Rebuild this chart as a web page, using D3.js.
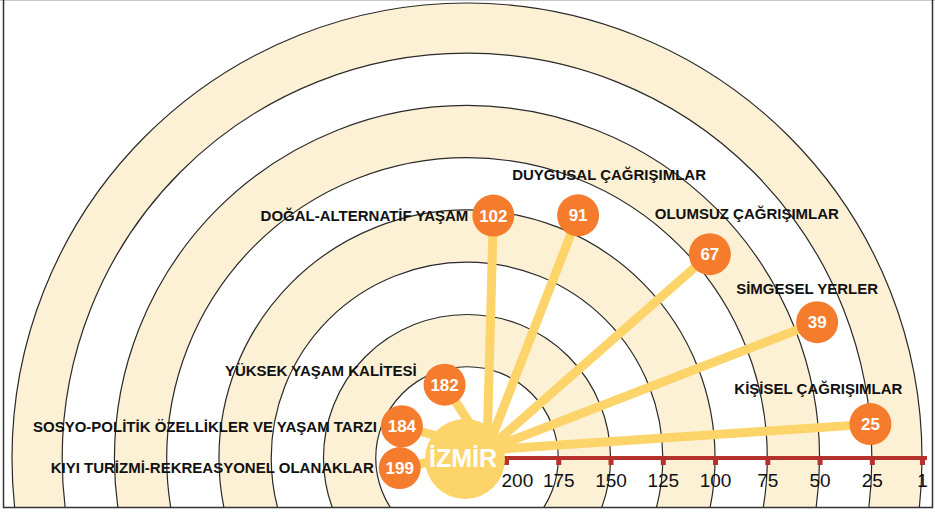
<!DOCTYPE html>
<html>
<head>
<meta charset="utf-8">
<script src="https://cdn.jsdelivr.net/npm/d3@7"></script>
<style>
  body { margin: 0; background: #fff; }
  svg { display: block; font-family: "Liberation Sans", Arial, sans-serif; }
</style>
</head>
<body>
<div id="chart"></div>
<script>
// rank of each association (1 = closest to the edge, 200 = closest to İzmir)
const categories = [
  "KİŞİSEL ÇAĞRIŞIMLAR",
  "SİMGESEL YERLER",
  "OLUMSUZ ÇAĞRIŞIMLAR",
  "DUYGUSAL ÇAĞRIŞIMLAR",
  "DOĞAL-ALTERNATİF YAŞAM",
  "YÜKSEK YAŞAM KALİTESİ",
  "SOSYO-POLİTİK ÖZELLİKLER VE YAŞAM TARZI",
  "KIYI TURİZMİ-REKREASYONEL OLANAKLAR",
];
const ranks = [25, 39, 67, 91, 102, 182, 184, 199];
// direction of each category around the centre, in degrees
const directions = [4.8, 21.2, 40, 65.4, 83.8, 107, 154, 188.5];
const tickValues = [200, 175, 150, 125, 100, 75, 50, 25, 1];
const centerLabel = "İZMİR";

// label placement relative to its bubble (layout only)
const labelLayout = [
  { dx: -52, dy: -30, anchor: "middle" },
  { dx: -10, dy: -28, anchor: "middle" },
  { dx: 37, dy: -35, anchor: "middle" },
  { dx: 31, dy: -35, anchor: "middle" },
  { dx: -25, dy: 5, anchor: "end" },
  { dx: -28, dy: -9, anchor: "end" },
  { dx: -25, dy: 6, anchor: "end" },
  { dx: -26, dy: 5, anchor: "end" },
];

const width = 935,
  height = 512;
const cx = 467,
  cy = 458;
const frame = { left: 3, top: 1, right: 932, bottom: 507 };

const beige = "#fcf0d5",
  yellow = "#fdd469",
  orange = "#f47c2c",
  axisRed = "#b5322c";

const svg = d3
  .select("#chart")
  .append("svg")
  .attr("width", width)
  .attr("height", height);

svg
  .append("clipPath")
  .attr("id", "frameClip")
  .append("rect")
  .attr("x", frame.left)
  .attr("y", frame.top)
  .attr("width", frame.right - frame.left)
  .attr("height", frame.bottom - frame.top);

// rank -> distance from centre
const rScale = d3.scaleLinear().domain([200, 1]).range([39, 455]);
const xScale = d3
  .scaleLinear()
  .domain([200, 1])
  .range([cx + rScale(200), cx + rScale(1)]);

const g = svg.append("g").attr("clip-path", "url(#frameClip)");

// rings, outer first, alternating colours
const bounds = tickValues.slice(1).reverse(); // 1, 25, 50 ... 175
g.selectAll(".ring")
  .data(bounds)
  .join("circle")
  .attr("class", "ring")
  .attr("cx", cx)
  .attr("cy", cy)
  .attr("r", (d) => rScale(d))
  .attr("fill", (d, i) => (i % 2 === 0 ? beige : "#fff"))
  .attr("stroke", "#2a2a2a")
  .attr("stroke-width", 1.2);

// axis
g.append("line")
  .attr("x1", xScale(200) - 4)
  .attr("x2", xScale(1) + 5)
  .attr("y1", cy)
  .attr("y2", cy)
  .attr("stroke", axisRed)
  .attr("stroke-width", 4);

const axis = d3
  .axisBottom(xScale)
  .tickValues(tickValues)
  .tickSize(7)
  .tickPadding(9);

const axisG = g
  .append("g")
  .attr("transform", "translate(0," + cy + ")")
  .call(axis);
axisG.select(".domain").remove();
axisG
  .selectAll(".tick line")
  .attr("stroke", axisRed)
  .attr("stroke-width", 5);
axisG
  .selectAll(".tick text")
  .attr("fill", "#111")
  .attr("text-anchor", (d) => (d === 200 ? "start" : "middle"))
  .attr("x", (d) => (d === 200 ? -5 : 0))
  .style("font-size", "19px")
  .style("font-family", "Liberation Sans, Arial, sans-serif");

// bubbles
const minR = 68;
const hub = [cx + 20, cy - 8];
const points = ranks.map((v, i) => {
  const a = (directions[i] * Math.PI) / 180;
  const rr = Math.max(rScale(v), minR);
  return {
    value: v,
    label: categories[i],
    x: cx + rr * Math.cos(a),
    y: cy - rr * Math.sin(a),
    lay: labelLayout[i],
  };
});

g.selectAll(".ray")
  .data(points)
  .join("line")
  .attr("class", "ray")
  .attr("x1", hub[0])
  .attr("y1", hub[1])
  .attr("x2", (d) => d.x)
  .attr("y2", (d) => d.y)
  .attr("stroke", yellow)
  .attr("stroke-width", 9);

g.append("circle")
  .attr("cx", cx - 2)
  .attr("cy", cy + 1)
  .attr("r", 40)
  .attr("fill", yellow);

g.append("text")
  .attr("x", cx - 4)
  .attr("y", cy + 9)
  .attr("text-anchor", "middle")
  .attr("fill", "#fff")
  .style("font-size", "25px")
  .style("font-weight", "bold")
  .text(centerLabel);

const bubble = g
  .selectAll(".bubble")
  .data(points)
  .join("g")
  .attr("class", "bubble")
  .attr("transform", (d) => "translate(" + d.x + "," + d.y + ")");

bubble.append("circle").attr("r", 21).attr("fill", orange);
bubble
  .append("text")
  .attr("text-anchor", "middle")
  .attr("dy", "0.36em")
  .attr("fill", "#fff")
  .style("font-size", "17px")
  .style("font-weight", "bold")
  .text((d) => d.value);

g.selectAll(".label")
  .data(points)
  .join("text")
  .attr("class", "label")
  .attr("x", (d) => d.x + d.lay.dx)
  .attr("y", (d) => d.y + d.lay.dy)
  .attr("text-anchor", (d) => d.lay.anchor)
  .attr("fill", "#111")
  .style("font-size", "15px")
  .style("font-weight", "bold")
  .text((d) => d.label);

// frame
svg
  .append("line")
  .attr("x1", 0)
  .attr("x2", width)
  .attr("y1", 0.5)
  .attr("y2", 0.5)
  .attr("stroke", "#c8c8c8");
svg
  .append("path")
  .attr(
    "d",
    "M" + (frame.left + 0.5) + ",0V" + (frame.bottom + 0.5) +
      "H" + (frame.right + 0.5) + "V0"
  )
  .attr("fill", "none")
  .attr("stroke", "#333")
  .attr("stroke-width", 1.5);
</script>
</body>
</html>
